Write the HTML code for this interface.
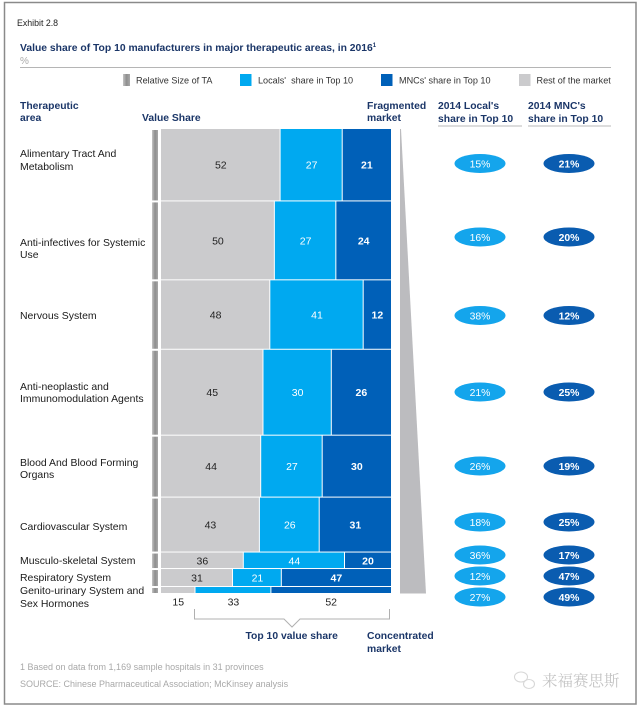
<!DOCTYPE html>
<html lang="en">
<head>
<meta charset="utf-8">
<title>Exhibit 2.8</title>
<style>
html,body{margin:0;padding:0;background:#fff;width:640px;height:708px;overflow:hidden}
svg{display:block;font-family:"Liberation Sans","Noto Sans CJK SC",sans-serif}
.n{fill:#1b3668;font-weight:bold;font-size:10.35px}
.c{fill:#1a1a1a;font-size:10.45px}
.l{fill:#333;font-size:9.1px}
.f{fill:#a8a8a8;font-size:9px}
</style>
</head>
<body>
<svg id="chart" width="640" height="708" viewBox="0 0 640 708" xmlns="http://www.w3.org/2000/svg">
<defs>
<linearGradient id="sizeGrad" x1="0" x2="1" y1="0" y2="0">
<stop offset="0" stop-color="#c4c4c4"/><stop offset="0.5" stop-color="#8e8e8e"/><stop offset="1" stop-color="#a8a8a8"/>
</linearGradient>
</defs>
<rect x="4.5" y="2.5" width="631.5" height="701.5" fill="#fff" stroke="#8a8a8a" stroke-width="1.5"/>
<text x="17" y="26" font-size="8.8" fill="#222">Exhibit 2.8</text>
<text class="n" x="20" y="51">Value share of Top 10 manufacturers in major therapeutic areas, in 2016<tspan font-size="6" dy="-4">1</tspan></text>
<text x="20" y="64" font-size="10" fill="#aaa">%</text>
<line x1="20" x2="611" y1="67.5" y2="67.5" stroke="#b5b5b5" stroke-width="1"/>

<g>
<rect x="123" y="74" width="7" height="12" fill="url(#sizeGrad)"/>
<text class="l" x="136" y="83.5">Relative Size of TA</text>
<rect x="240" y="74" width="11.500" height="12" fill="#00a9f0"/>
<text class="l" x="258" y="83.500" xml:space="preserve">Locals'  share in Top 10</text>
<rect x="381" y="74" width="11.500" height="12" fill="#0060b8"/>
<text class="l" x="399" y="83.500">MNCs' share in Top 10</text>
<rect x="519" y="74" width="11.500" height="12" fill="#cbcbcd"/>
<text class="l" x="536.500" y="83.500">Rest of the market</text>
</g>

<text class="n" x="20" y="109">Therapeutic<tspan x="20" y="121">area</tspan></text>
<text class="n" x="142" y="121">Value Share</text>
<text class="n" x="367" y="109">Fragmented<tspan x="367" y="121">market</tspan></text>
<text class="n" x="438" y="109">2014 Local's<tspan x="438" y="122">share in Top 10</tspan></text>
<text class="n" x="528" y="109">2014 MNC's<tspan x="528" y="122">share in Top 10</tspan></text>
<line x1="438" x2="522" y1="126" y2="126" stroke="#a0a0a0" stroke-width="0.800"/>
<line x1="528" x2="611" y1="126" y2="126" stroke="#a0a0a0" stroke-width="0.800"/>

<g>
<text class="c" x="20" y="157">Alimentary Tract And<tspan x="20" y="170">Metabolism</tspan></text>
<text class="c" x="20" y="246">Anti-infectives for Systemic<tspan x="20" y="258">Use</tspan></text>
<text class="c" x="20" y="319">Nervous System</text>
<text class="c" x="20" y="390">Anti-neoplastic and<tspan x="20" y="402">Immunomodulation Agents</tspan></text>
<text class="c" x="20" y="466">Blood And Blood Forming<tspan x="20" y="478">Organs</tspan></text>
<text class="c" x="20" y="530">Cardiovascular System</text>
<text class="c" x="20" y="564">Musculo-skeletal System</text>
<text class="c" x="20" y="581">Respiratory System</text>
<text class="c" x="20" y="594">Genito-urinary System and<tspan x="20" y="607">Sex Hormones</tspan></text>
</g>

<g id="marks"></g>
<g id="pills"></g>

<polygon points="400,129 401,129 426,593.500 400,593.500" fill="#bcbcbf"/>

<path d="M194.500 609V619H284L292 627L300 619H389.500V609" fill="none" stroke="#b0b0b0" stroke-width="1"/>
<text class="n" x="245.500" y="639">Top 10 value share</text>
<text class="n" x="367" y="639">Concentrated<tspan x="367" y="652">market</tspan></text>
<text class="f" x="20" y="670">1 Based on data from 1,169 sample hospitals in 31 provinces</text>
<text class="f" x="20" y="687">SOURCE: Chinese Pharmaceutical Association; McKinsey analysis</text>

<g>
<g fill="none" stroke="#d8d8d8" stroke-width="1.100">
<ellipse cx="521" cy="677" rx="6.500" ry="5"/>
<ellipse cx="529" cy="684" rx="5.500" ry="4.500"/>
</g>
<text x="542" y="686" font-size="15.500" fill="#c4c4c4" style="font-family:'Noto Serif CJK SC','Noto Sans CJK SC',sans-serif">来福赛思斯</text>
</g>
</svg>
<script>
// Chart data
const categories = ["Alimentary Tract And Metabolism", "Anti-infectives for Systemic Use", "Nervous System", "Anti-neoplastic and Immunomodulation Agents", "Blood And Blood Forming Organs", "Cardiovascular System", "Musculo-skeletal System", "Respiratory System", "Genito-urinary System and Sex Hormones"];
const relativeSize = [72.5, 79, 69.5, 86, 62, 55, 16.5, 18, 7];
const restShare = [52, 50, 48, 45, 44, 43, 36, 31, 15];
const localShare = [27, 27, 41, 30, 27, 26, 44, 21, 33];
const mncShare = [21, 24, 12, 26, 30, 31, 20, 47, 52];
const local2014 = [15, 16, 38, 21, 26, 18, 36, 12, 27];
const mnc2014 = [21, 20, 12, 25, 19, 25, 17, 47, 49];

// Layout
const plotLeft = 161, plotRight = 391, plotTop = 129, plotHeight = 465;
const pillBaseY = [163.5, 237, 315.5, 392, 466, 522, 555, 576, 597];
const NS = 'http://www.w3.org/2000/svg';
const totalSize = relativeSize.reduce((a, b) => a + b, 0);

function xScale(pct) { return plotLeft + (plotRight - plotLeft) * pct / 100; }
function yScale(size) { return plotTop + plotHeight * size / totalSize; }
function make(tag, attrs, parent) {
  const el = document.createElementNS(NS, tag);
  for (const k in attrs) el.setAttribute(k, attrs[k]);
  parent.appendChild(el);
  return el;
}

const marks = document.getElementById('marks');
const pills = document.getElementById('pills');
const seriesDefs = [
  { key: 'rest', values: restShare, fill: '#cbcbcd', text: '#222', weight: 'normal' },
  { key: 'local', values: localShare, fill: '#00a9f0', text: '#fff', weight: 'normal' },
  { key: 'mnc', values: mncShare, fill: '#0060b8', text: '#fff', weight: 'bold' }
];

let cumSize = 0;
categories.forEach(function (cat, i) {
  const y0 = yScale(cumSize);
  const y1 = yScale(cumSize + relativeSize[i]);
  cumSize += relativeSize[i];
  const h = Math.max(1, y1 - y0 - 1);

  const sizeBar = make('rect', { x: 152, y: y0 + 1, width: 6, height: Math.max(1, h - 1), fill: 'url(#sizeGrad)' }, marks);
  
  

  const rowTotal = restShare[i] + localShare[i] + mncShare[i];
  let cum = 0;
  seriesDefs.forEach(function (s, j) {
    const v = s.values[i];
    const x0 = xScale(cum / rowTotal * 100);
    const x1 = xScale((cum + v) / rowTotal * 100);
    cum += v;
    const w = x1 - x0 - (j < 2 ? 1 : 0);
    const seg = make('rect', { x: x0, y: y0, width: w, height: h, fill: s.fill }, marks);
    
    

    // The thinnest row has its values printed below the bar
    const below = h < 10;
    const label = make('text', {
      x: (x0 + x1) / 2,
      y: below ? 605.5 : y0 + h / 2 + 4,
      'text-anchor': 'middle',
      'font-size': 10.5,
      'font-weight': below ? 'normal' : s.weight,
      fill: below ? '#222' : s.text
    }, marks);
    
    
    label.textContent = v;
  });

  [[480, local2014[i], '#14a5ec', 'normal', 'local'], [569, mnc2014[i], '#0a5cb0', 'bold', 'mnc']].forEach(function (p) {
    const pill = make('ellipse', { cx: p[0], cy: pillBaseY[i], rx: 25.5, ry: 9.5, fill: p[2] }, pills);
    
    
    const t = make('text', { x: p[0], y: pillBaseY[i] + 3.8, 'text-anchor': 'middle', 'font-size': 10.4, 'font-weight': p[3], fill: '#fff' }, pills);
    
    
    t.textContent = p[1] + '%';
  });
});
</script>
</body>
</html>
